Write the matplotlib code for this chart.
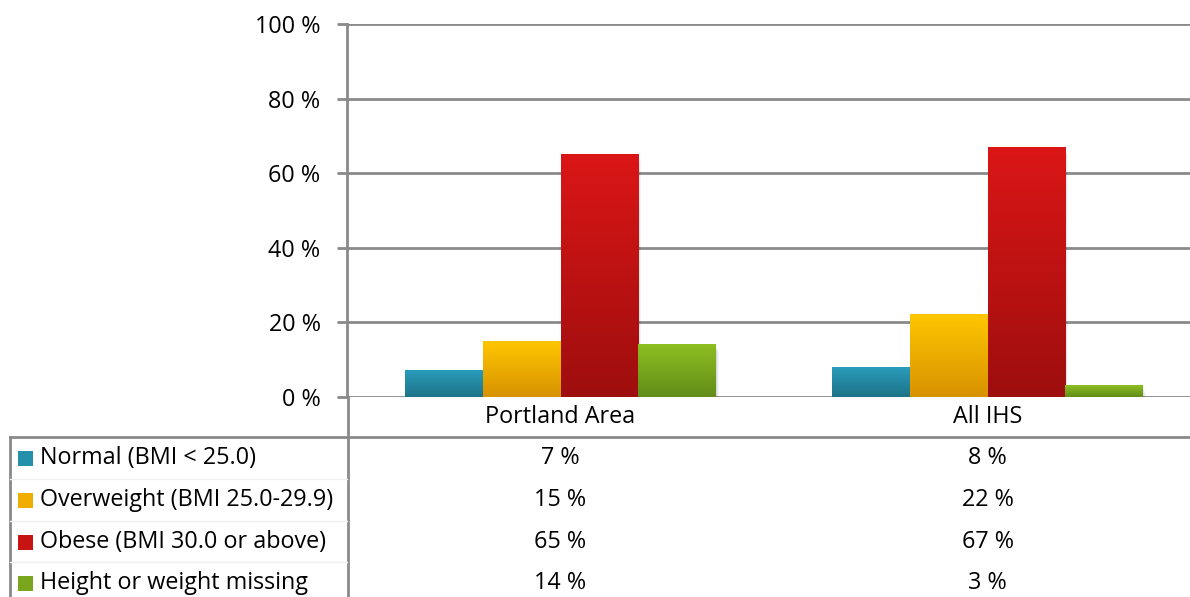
import numpy as np
import matplotlib
matplotlib.use("Agg")
import matplotlib.pyplot as plt
from matplotlib.colors import LinearSegmentedColormap
from matplotlib.patches import Rectangle

categories = ["Portland Area", "All IHS"]
series = ["Normal (BMI < 25.0)", "Overweight (BMI 25.0-29.9)",
          "Obese (BMI 30.0 or above)", "Height or weight missing"]
values = [
    [7, 8],
    [15, 22],
    [65, 67],
    [14, 3],
]
yticks = [0, 20, 40, 60, 80, 100]
top_colors = ["#2A9CBB", "#FFC600", "#DB1616", "#8DBF22"]
bot_colors = ["#1D7387", "#D79200", "#9E0E0E", "#628C18"]
legend_colors = ["#2590AA", "#F0AE00", "#C81313", "#79A61D"]

plt.rcParams['font.family'] = ['Open Sans', 'DejaVu Sans']
FS = 16.8
W, H = 1190, 597
fig = plt.figure(figsize=(W / 100, H / 100), dpi=100)

def fx(px):
    return px / W
def fy(py):
    return 1 - py / H

ax_left, ax_right, ax_top, ax_bot = 347, 1201, 24, 397
ax = fig.add_axes([fx(ax_left), fy(ax_bot), fx(ax_right - ax_left), fy(ax_top) - fy(ax_bot)])
ax.set_xlim(-0.5, len(categories) - 0.5)
ax.set_ylim(0, 100)

grid_c = "#8A8A8A"
for t in yticks:
    ax.axhline(t, color=grid_c, lw=2, zorder=1)
ax.set_yticks(yticks)
ax.set_yticklabels([f"{t} %" for t in yticks], fontsize=FS)
ax.tick_params(axis='y', length=7, width=2, color=grid_c, pad=12)
ax.set_xticks([])
for s in ["top", "right", "bottom"]:
    ax.spines[s].set_visible(False)
ax.spines["left"].set_color(grid_c)
ax.spines["left"].set_linewidth(2)

nser = len(series)
group_w = 0.73
bw = group_w / nser
grad = np.linspace(0, 1, 256).reshape(-1, 1)
for i in range(nser):
    cmap = LinearSegmentedColormap.from_list(f"c{i}", [bot_colors[i], top_colors[i]])
    for j in range(len(categories)):
        x0 = j - group_w / 2 + i * bw
        h = values[i][j]
        for k, a in enumerate([0.06, 0.05, 0.04]):
            ax.add_patch(Rectangle((x0 + 0.002 * (k + 1), -0.6 * (k + 1)), bw, h,
                                   color="black", alpha=a, lw=0, zorder=2))
        ax.imshow(grad, extent=[x0, x0 + bw, 0, h], origin="lower", aspect="auto",
                  cmap=cmap, zorder=3, interpolation="bilinear")
ax.set_xlim(-0.5, len(categories) - 0.5)
ax.set_ylim(0, 100)

ov = fig.add_axes([0, 0, 1, 1], facecolor="none")
ov.set_xlim(0, W)
ov.set_ylim(H, 0)
ov.axis("off")

ov.plot([10, W], [437, 437], color=grid_c, lw=2)
ov.plot([10, 10], [437, H], color=grid_c, lw=2)
ov.plot([348, 348], [397, H], color=grid_c, lw=2)
for yy in [479, 521, 562]:
    ov.plot([10, 347], [yy, yy], color="#F0F0F0", lw=1)

cat_px = [ax_left + (ax_right - ax_left) * (j + 0.5) / len(categories) for j in range(len(categories))]
for j, c in enumerate(categories):
    ov.text(cat_px[j], 417, c, ha="center", va="center", fontsize=FS)

row_y = [458, 500, 542, 583]
for i, s in enumerate(series):
    ov.add_patch(Rectangle((18, row_y[i] - 7.5), 15, 15, color=legend_colors[i], lw=0))
    ov.text(40, row_y[i], s, ha="left", va="center", fontsize=FS)
    for j in range(len(categories)):
        ov.text(cat_px[j], row_y[i], f"{values[i][j]} %", ha="center", va="center", fontsize=FS)

fig.savefig("out.png", dpi=100)
